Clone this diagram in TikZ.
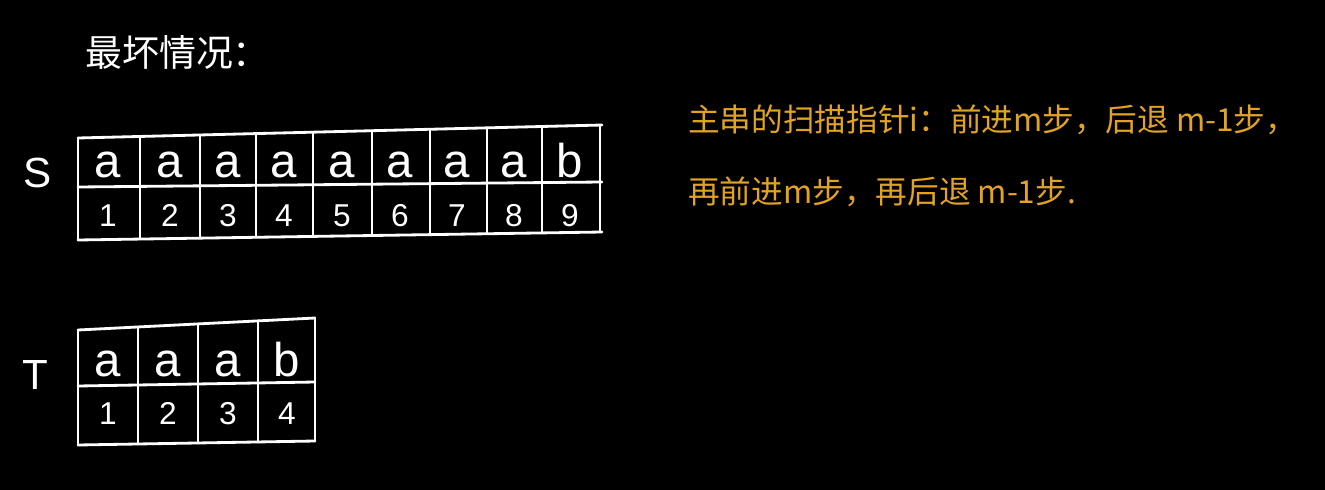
\documentclass[tikz,border=0pt]{standalone}
\usepackage{fontspec}
\setmainfont{Liberation Sans}
\newfontfamily\cjk{Noto Sans CJK SC}
\definecolor{hand}{HTML}{E2A324}
\begin{document}
\begin{tikzpicture}[x=0.02cm,y=-0.02cm,
  grid/.style={draw=white,line width=1.6pt,line cap=round,line join=round},
  letter/.style={text=white,font=\fontsize{27}{30}\selectfont,inner sep=0pt,anchor=base},
  num/.style={text=white,font=\fontsize{18}{21}\selectfont,inner sep=0pt,anchor=base},
  strname/.style={text=white,font=\fontsize{24}{26}\selectfont,inner sep=0pt},
  note/.style={text=hand,font=\cjk\fontsize{18}{20}\selectfont,inner sep=0pt,anchor=west}]
\fill[black] (0,0) rectangle (1325,490);
\useasboundingbox (0,0) rectangle (1325,490);

% title
\node[text=white,font=\cjk\fontsize{21}{24}\selectfont,inner sep=0pt,anchor=west] (title) at (85,52) {最坏情况：};

% S table
\node[strname] (S) at (38,173) {S};
\coordinate (s0t) at (78,138); \coordinate (s9t) at (602,125);
\coordinate (s0m) at (78,187); \coordinate (s9m) at (602,182);
\coordinate (s0b) at (78,240); \coordinate (s9b) at (602,232);
\draw[grid] (s0t) -- (s9t);
\draw[grid] (s0m) -- (s9m);
\draw[grid] (s0b) -- (s9b);
\foreach \x in {78,140,200,256,313,372,430,487,542,600}{
  \pgfmathsetmacro{\ytop}{138-13*(\x-78)/524}
  \pgfmathsetmacro{\ybot}{240-8*(\x-78)/524}
  \draw[grid] (\x,\ytop) -- (\x,\ybot);
}
\foreach \c/\x/\ch in {1/108/a,2/170/a,3/228/a,4/284/a,5/342/a,6/400/a,7/457/a,8/514/a,9/570/b}{
  \node[letter] (sa\c) at (\x,177) {\ch};
  \node[num] (sn\c) at (\x,226) {\c};
}

% T table
\node[strname] (T) at (35,375) {T};
\coordinate (t0t) at (78,330); \coordinate (t4t) at (315,318);
\coordinate (t0m) at (78,386); \coordinate (t4m) at (315,382);
\coordinate (t0b) at (78,445); \coordinate (t4b) at (315,441);
\draw[grid] (t0t) -- (t4t);
\draw[grid] (t0m) -- (t4m);
\draw[grid] (t0b) -- (t4b);
\foreach \x in {78,138,198,258,315}{
  \pgfmathsetmacro{\ytop}{330-12*(\x-78)/237}
  \pgfmathsetmacro{\ybot}{445-4*(\x-78)/237}
  \draw[grid] (\x,\ytop) -- (\x,\ybot);
}
\foreach \c/\x/\ch in {1/108/a,2/168/a,3/228/a,4/287/b}{
  \node[letter] (ta\c) at (\x,376) {\ch};
  \node[num] (tn\c) at (\x,424) {\c};
}

% note
\node[note] (n1) at (688,120) {主串的扫描指针i：前进m步，后退 m-1步，};
\node[note] (n2) at (688,192) {再前进m步，再后退 m-1步.};
\end{tikzpicture}
\end{document}
